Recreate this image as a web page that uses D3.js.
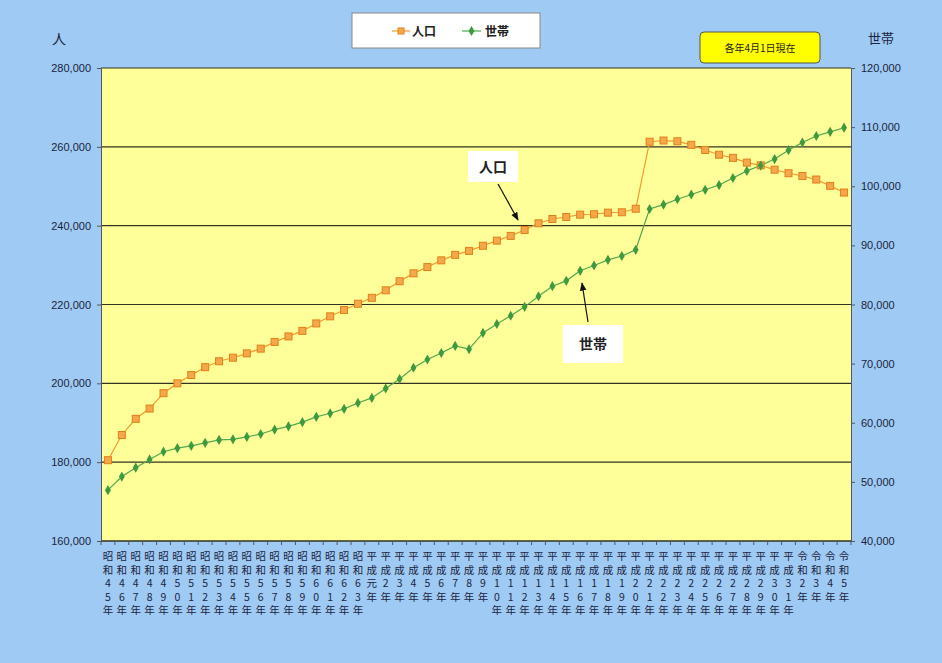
<!DOCTYPE html>
<html>
<head>
<meta charset="utf-8">
<script src="https://cdn.jsdelivr.net/npm/d3@7"></script>
<style>
  body { margin: 0; background: #9fcaf3; }
  svg { display: block; font-family: 'Noto Sans CJK JP', 'Noto Sans', sans-serif; }
</style>
</head>
<body>
<div id="chart"></div>
<script>
// 各年4月1日現在
const years = [
  '昭和45年','昭和46年','昭和47年','昭和48年','昭和49年','昭和50年','昭和51年','昭和52年','昭和53年','昭和54年',
  '昭和55年','昭和56年','昭和57年','昭和58年','昭和59年','昭和60年','昭和61年','昭和62年','昭和63年',
  '平成元年','平成2年','平成3年','平成4年','平成5年','平成6年','平成7年','平成8年','平成9年','平成10年',
  '平成11年','平成12年','平成13年','平成14年','平成15年','平成16年','平成17年','平成18年','平成19年','平成20年',
  '平成21年','平成22年','平成23年','平成24年','平成25年','平成26年','平成27年','平成28年','平成29年','平成30年',
  '平成31年','令和2年','令和3年','令和4年','令和5年'
];

const population = [
  180500, 186900, 191000, 193600, 197500, 200000, 202100, 204100, 205600, 206500,
  207600, 208800, 210500, 211900, 213300, 215200, 217000, 218600, 220200, 221700,
  223600, 225900, 227900, 229500, 231200, 232600, 233600, 234900, 236200, 237400,
  238900, 240600, 241700, 242200, 242800, 242900, 243300, 243400, 244300, 261300,
  261600, 261400, 260500, 259200, 258000, 257200, 256000, 255300, 254200, 253300,
  252600, 251700, 250100, 248400
];

const households = [
  48600, 50900, 52400, 53800, 55100, 55700, 56100, 56600, 57100, 57200,
  57600, 58100, 58850, 59400, 60100, 61000, 61600, 62350, 63350, 64200,
  65800, 67400, 69300, 70700, 71800, 73000, 72450, 75200, 76700, 78100,
  79600, 81400, 83100, 84000, 85700, 86600, 87550, 88200, 89250, 96150,
  96900, 97800, 98600, 99400, 100200, 101400, 102600, 103500, 104600, 106100,
  107400, 108500, 109200, 109900
];

const leftTicks = [160000, 180000, 200000, 220000, 240000, 260000, 280000];
const rightTicks = [40000, 50000, 60000, 70000, 80000, 90000, 100000, 110000, 120000];

const W = 942, H = 663;
const plot = { left: 101, right: 851, top: 68, bottom: 541 };
const POP_COLOR = '#f39a2e', HH_COLOR = '#3f9a3f';

const svg = d3.select('#chart').append('svg')
  .attr('width', W).attr('height', H);

svg.append('rect').attr('width', W).attr('height', H).attr('fill', '#9fcaf3');

const x = d3.scalePoint().domain(years).range([plot.left, plot.right]).padding(0.5);
const band = d3.scaleBand().domain(years).range([plot.left, plot.right]);
const yL = d3.scaleLinear().domain([160000, 280000]).range([plot.bottom, plot.top]);
const yR = d3.scaleLinear().domain([40000, 120000]).range([plot.bottom, plot.top]);

// plot area
svg.append('rect')
  .attr('x', plot.left).attr('y', plot.top)
  .attr('width', plot.right - plot.left).attr('height', plot.bottom - plot.top)
  .attr('fill', '#ffff99');

// gridlines
svg.append('g').selectAll('line')
  .data(leftTicks)
  .enter().append('line')
  .attr('x1', plot.left).attr('x2', plot.right)
  .attr('y1', d => yL(d)).attr('y2', d => yL(d))
  .attr('stroke', '#333322').attr('stroke-width', 1.2);

// left axis
const fmt = d3.format(',');
const gL = svg.append('g').attr('transform', `translate(${plot.left},0)`)
  .call(d3.axisLeft(yL).tickValues(leftTicks).tickFormat(fmt).tickSize(4).tickPadding(6));
gL.select('.domain').attr('stroke', '#556');
gL.selectAll('.tick line').attr('stroke', '#556');
gL.selectAll('text').attr('font-size', 11).attr('fill', '#1b2440')
  .attr('font-family', "'Liberation Sans', sans-serif");

// right axis
const gR = svg.append('g').attr('transform', `translate(${plot.right},0)`)
  .call(d3.axisRight(yR).tickValues(rightTicks).tickFormat(fmt).tickSize(4).tickPadding(6));
gR.select('.domain').attr('stroke', '#556');
gR.selectAll('.tick line').attr('stroke', '#556');
gR.selectAll('text').attr('font-size', 11).attr('fill', '#1b2440')
  .attr('font-family', "'Liberation Sans', sans-serif");

// bottom axis: ticks between categories
svg.append('line')
  .attr('x1', plot.left).attr('x2', plot.right)
  .attr('y1', plot.bottom).attr('y2', plot.bottom)
  .attr('stroke', '#333322').attr('stroke-width', 1.2);
svg.append('g').selectAll('line')
  .data(years.concat(['_end']))
  .enter().append('line')
  .attr('x1', (d, i) => plot.left + i * band.step())
  .attr('x2', (d, i) => plot.left + i * band.step())
  .attr('y1', plot.bottom).attr('y2', plot.bottom + 4)
  .attr('stroke', '#556');

// vertical category labels, one text per character
const labelG = svg.append('g').attr('font-size', 10.5).attr('fill', '#1b2440');
years.forEach(lbl => {
  labelG.selectAll(null)
    .data(Array.from(lbl))
    .enter().append('text')
    .attr('text-anchor', 'middle')
    .attr('x', x(lbl))
    .attr('y', (ch, j) => 560 + j * 13.6)
    .text(ch => ch);
});

// lines
const popLine = d3.line().x((d, i) => x(years[i])).y(d => yL(d));
const hhLine = d3.line().x((d, i) => x(years[i])).y(d => yR(d));

svg.append('path').datum(population)
  .attr('d', popLine).attr('fill', 'none')
  .attr('stroke', POP_COLOR).attr('stroke-width', 1.2);
svg.append('path').datum(households)
  .attr('d', hhLine).attr('fill', 'none')
  .attr('stroke', '#4fa84f').attr('stroke-width', 1.2);

// markers
svg.append('g').selectAll('rect')
  .data(population)
  .enter().append('rect')
  .attr('x', (d, i) => x(years[i]) - 3.5)
  .attr('y', d => yL(d) - 3.5)
  .attr('width', 7).attr('height', 7)
  .attr('fill', '#f4a84a').attr('stroke', '#e0801a').attr('stroke-width', 1);

const diamond = d3.symbol().type(d3.symbolDiamond).size(30);
svg.append('g').selectAll('path')
  .data(households)
  .enter().append('path')
  .attr('d', diamond)
  .attr('transform', (d, i) => `translate(${x(years[i])},${yR(d)})`)
  .attr('fill', HH_COLOR);

// axis titles
svg.append('text').attr('x', 52).attr('y', 44).attr('font-size', 14)
  .attr('fill', '#1b2440').text('人');
svg.append('text').attr('x', 868).attr('y', 43).attr('font-size', 13)
  .attr('fill', '#1b2440').text('世帯');

// legend
const lg = svg.append('g');
lg.append('rect').attr('x', 352).attr('y', 13).attr('width', 188).attr('height', 35)
  .attr('fill', '#fff').attr('stroke', '#888').attr('stroke-width', 1);
lg.append('line').attr('x1', 392).attr('x2', 410).attr('y1', 31).attr('y2', 31)
  .attr('stroke', POP_COLOR).attr('stroke-width', 1.2);
lg.append('rect').attr('x', 398).attr('y', 28).attr('width', 6).attr('height', 6)
  .attr('fill', '#f4a84a').attr('stroke', '#e0801a');
lg.append('text').attr('x', 412).attr('y', 36).attr('font-size', 12).attr('font-weight', 'bold')
  .attr('fill', '#222').text('人口');
lg.append('line').attr('x1', 462).attr('x2', 481).attr('y1', 31).attr('y2', 31)
  .attr('stroke', '#4fa84f').attr('stroke-width', 1.2);
lg.append('path').attr('d', diamond).attr('transform', 'translate(471.5,31)').attr('fill', HH_COLOR);
lg.append('text').attr('x', 485).attr('y', 36).attr('font-size', 12).attr('font-weight', 'bold')
  .attr('fill', '#222').text('世帯');

// note box
svg.append('rect').attr('x', 700).attr('y', 32).attr('width', 120).attr('height', 31)
  .attr('rx', 4).attr('fill', '#ffff00').attr('stroke', '#555').attr('stroke-width', 1);
svg.append('text').attr('x', 760).attr('y', 52).attr('text-anchor', 'middle')
  .attr('font-size', 10).attr('fill', '#222').text('各年4月1日現在');

// annotations
svg.append('defs').append('marker')
  .attr('id', 'arrow').attr('viewBox', '0 0 10 10')
  .attr('refX', 9).attr('refY', 5)
  .attr('markerWidth', 7).attr('markerHeight', 7)
  .attr('orient', 'auto')
  .append('path').attr('d', 'M0,1 L10,5 L0,9 Z').attr('fill', '#111');

function callout(bx, by, bw, bh, label, x1, y1, x2, y2) {
  svg.append('rect').attr('x', bx).attr('y', by).attr('width', bw).attr('height', bh)
    .attr('fill', '#fff');
  svg.append('text').attr('x', bx + bw / 2).attr('y', by + bh / 2 + 5)
    .attr('text-anchor', 'middle').attr('font-size', 14).attr('font-weight', 'bold')
    .attr('fill', '#222').text(label);
  svg.append('line').attr('x1', x1).attr('y1', y1).attr('x2', x2).attr('y2', y2)
    .attr('stroke', '#111').attr('stroke-width', 1.2).attr('marker-end', 'url(#arrow)');
}
callout(468, 151, 50, 31, '人口', 498, 184, 518, 220);
callout(563, 325, 60, 38, '世帯', 588, 322, 582, 283);
</script>
</body>
</html>
